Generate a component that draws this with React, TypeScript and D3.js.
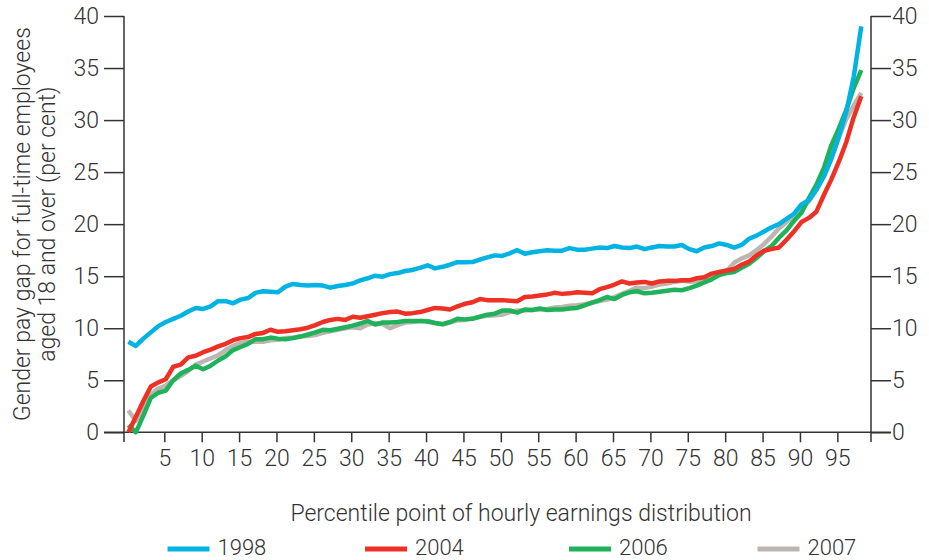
import React, { useEffect, useRef } from 'react';
import * as d3 from 'd3';

// percentile points 1..99
const percentiles = d3.range(1, 100);

const gap1998 = [
  8.7, 8.3, 9.0, 9.6, 10.2, 10.6, 10.9, 11.2, 11.6, 11.95,
  11.85, 12.1, 12.6, 12.6, 12.4, 12.75, 12.9, 13.4, 13.55, 13.5,
  13.45, 14.0, 14.25, 14.15, 14.1, 14.15, 14.1, 13.9, 14.05, 14.15,
  14.3, 14.6, 14.8, 15.05, 14.95, 15.2, 15.3, 15.5, 15.6, 15.8,
  16.05, 15.75, 15.9, 16.1, 16.35, 16.35, 16.36, 16.6, 16.8, 17.0,
  16.95, 17.2, 17.5, 17.15, 17.3, 17.4, 17.5, 17.45, 17.45, 17.7,
  17.55, 17.55, 17.65, 17.75, 17.7, 17.9, 17.75, 17.7, 17.85, 17.6,
  17.75, 17.9, 17.85, 17.85, 18.0, 17.6, 17.4, 17.75, 17.9, 18.15,
  18.0, 17.75, 18.0, 18.6, 18.9, 19.3, 19.7, 20.0, 20.5, 21.0,
  21.9, 22.3, 23.3, 24.6, 26.3, 28.4, 30.8, 34.2, 39.0,
];

const gap2004 = [
  0.0, 1.5, 3.0, 4.4, 4.8, 5.1, 6.3, 6.5, 7.2, 7.35,
  7.7, 7.95, 8.25, 8.5, 8.85, 9.05, 9.15, 9.45, 9.55, 9.85,
  9.65, 9.7, 9.8, 9.9, 10.05, 10.3, 10.6, 10.8, 10.9, 10.8,
  11.1, 11.0, 11.15, 11.3, 11.45, 11.55, 11.6, 11.4, 11.45, 11.55,
  11.75, 11.95, 11.9, 11.8, 12.1, 12.35, 12.5, 12.8, 12.7, 12.7,
  12.7, 12.65, 12.6, 13.0, 13.05, 13.15, 13.25, 13.4, 13.3, 13.35,
  13.45, 13.4, 13.35, 13.75, 13.95, 14.2, 14.5, 14.3, 14.4, 14.45,
  14.3, 14.5, 14.55, 14.55, 14.6, 14.6, 14.8, 14.9, 15.25, 15.4,
  15.55, 15.7, 16.1, 16.4, 17.0, 17.45, 17.6, 17.75, 18.5, 19.3,
  20.2, 20.6, 21.2, 22.8, 24.3, 26.0, 27.9, 30.3, 32.3,
];

const gap2006 = [
  0.7, 0.0, 1.6, 3.3, 3.8, 4.0, 5.0, 5.65, 6.0, 6.4,
  6.05, 6.4, 6.9, 7.3, 7.9, 8.2, 8.5, 8.95, 8.95, 9.1,
  9.0, 8.95, 9.05, 9.2, 9.4, 9.6, 9.85, 9.8, 9.95, 10.1,
  10.25, 10.45, 10.7, 10.35, 10.55, 10.55, 10.6, 10.7, 10.7, 10.7,
  10.65, 10.5, 10.4, 10.6, 10.9, 10.85, 10.9, 11.1, 11.3, 11.4,
  11.7, 11.7, 11.5, 11.8, 11.75, 11.9, 11.75, 11.8, 11.8, 11.9,
  11.95, 12.2, 12.45, 12.7, 13.0, 12.8, 13.2, 13.45, 13.55, 13.35,
  13.4, 13.5, 13.6, 13.7, 13.65, 13.85, 14.1, 14.4, 14.7, 15.1,
  15.3, 15.4, 15.8, 16.2, 16.75, 17.4, 17.9, 18.7, 19.4, 20.3,
  21.1, 22.5, 23.8, 25.4, 27.6, 29.2, 31.0, 33.1, 34.8,
];

const gap2007 = [
  2.1, 1.1, 2.3, 3.6, 4.2, 4.5, 5.0, 5.4, 5.9, 6.5,
  6.8, 7.1, 7.4, 7.9, 8.3, 8.6, 8.7, 8.7, 8.7, 8.85,
  8.9, 9.05, 9.1, 9.2, 9.25, 9.35, 9.55, 9.7, 9.85, 10.0,
  10.1, 10.0, 10.35, 10.5, 10.4, 10.0, 10.3, 10.55, 10.6, 10.7,
  10.7, 10.5, 10.35, 10.55, 10.75, 10.8, 10.95, 11.1, 11.2, 11.25,
  11.3, 11.55, 11.7, 11.7, 11.75, 11.8, 11.85, 12.0, 12.05, 12.15,
  12.2, 12.3, 12.45, 12.6, 12.75, 13.0, 13.3, 13.6, 13.9, 13.85,
  14.0, 14.2, 14.3, 14.45, 14.55, 14.5, 14.5, 14.7, 15.0, 15.2,
  15.5, 16.3, 16.7, 17.0, 17.5, 18.1, 18.8, 19.6, 20.2, 20.8,
  21.5, 22.2, 23.3, 24.6, 26.3, 28.3, 30.1, 31.4, 32.6,
];

const years = ['1998', '2004', '2006', '2007'];
const colors = ['#00b3e3', '#ee3124', '#1fb25a', '#bdb5af'];
const seriesValues = [gap1998, gap2004, gap2006, gap2007];

const xTicks = d3.range(5, 100, 5);
const yTicks = d3.range(0, 45, 5);

const xTitle = 'Percentile point of hourly earnings distribution';
const yTitle = ['Gender pay gap for full-time employees', 'aged 18 and over (per cent)'];

const FONT = 'Roboto, "Liberation Sans", Arial, sans-serif';
const INK = '#333';
const FS = 23;

export default function App() {
  const ref = useRef<SVGSVGElement>(null);

  useEffect(() => {
    const width = 929;
    const height = 560;
    const left = 124;
    const right = 871;
    const top = 16;
    const bottom = 442;

    const svg = d3.select(ref.current).attr('width', width).attr('height', height);
    svg.selectAll('*').remove();

    const x = d3.scaleLinear().domain([0, 99.5]).range([126.9, 871]);
    const y = d3.scaleLinear().domain([0, 40]).range([432.3, 16]);
    // data points sit a little left of their nominal percentile tick
    const shift = 0.8;

    // axis lines
    const axes = svg.append('g').attr('stroke', INK).attr('stroke-width', 1.5);
    axes.append('line').attr('x1', left).attr('x2', left).attr('y1', top).attr('y2', bottom);
    axes.append('line').attr('x1', right).attr('x2', right).attr('y1', top).attr('y2', bottom);
    axes.append('line').attr('x1', left - 20).attr('x2', right + 20).attr('y1', y(0)).attr('y2', y(0));

    const styleAxis = (g: any) => {
      g.select('.domain').remove();
      g.selectAll('line').attr('stroke', INK).attr('stroke-width', 1.5);
      g.selectAll('text')
        .attr('fill', INK)
        .attr('font-family', FONT)
        .attr('font-weight', 300)
        .attr('font-size', FS);
    };

    svg.append('g')
      .attr('transform', `translate(${left},0)`)
      .call(d3.axisLeft(y).tickValues(yTicks).tickSize(20).tickPadding(5).tickSizeOuter(0))
      .call(styleAxis);

    svg.append('g')
      .attr('transform', `translate(${right},0)`)
      .call(d3.axisRight(y).tickValues(yTicks).tickSize(20).tickPadding(1).tickSizeOuter(0))
      .call(styleAxis);

    svg.append('g')
      .attr('transform', `translate(0,${y(0)})`)
      .call(d3.axisBottom(x).tickValues(xTicks).tickSize(10).tickPadding(7).tickSizeOuter(0))
      .call(styleAxis);

    // lines: gray first, blue on top
    const line = d3.line<number>()
      .x((_, i) => x(percentiles[i] - shift))
      .y(d => y(d));

    const order = [3, 2, 1, 0];
    svg.append('g')
      .selectAll('path')
      .data(order)
      .enter()
      .append('path')
      .attr('d', i => line(seriesValues[i]))
      .attr('fill', 'none')
      .attr('stroke', i => colors[i])
      .attr('stroke-width', 4.5)
      .attr('stroke-linejoin', 'round');

    // axis titles
    svg.append('text')
      .attr('x', 521)
      .attr('y', 521)
      .attr('text-anchor', 'middle')
      .attr('font-family', FONT)
      .attr('font-weight', 300)
      .attr('font-size', FS)
      .attr('fill', INK)
      .text(xTitle);

    const yt = svg.append('text')
      .attr('transform', `translate(0,${(top + y(0)) / 2}) rotate(-90)`)
      .attr('text-anchor', 'middle')
      .attr('font-family', FONT)
      .attr('font-weight', 300)
      .attr('font-size', FS)
      .attr('fill', INK);
    yTitle.forEach((t, i) => {
      yt.append('tspan').attr('x', 0).attr('y', 30 + i * 25).text(t);
    });

    // legend
    const legendX = [167.5, 365, 569, 757.5];
    const lg = svg.append('g')
      .selectAll('g')
      .data(years)
      .enter()
      .append('g')
      .attr('transform', (_, i) => `translate(${legendX[i]},549)`);
    lg.append('line')
      .attr('x1', 0).attr('x2', 42)
      .attr('stroke', (_, i) => colors[i])
      .attr('stroke-width', 5);
    lg.append('text')
      .attr('x', 50)
      .attr('y', 6)
      .attr('font-family', FONT)
      .attr('font-weight', 300)
      .attr('font-size', 22)
      .attr('fill', INK)
      .text(d => d);
  });

  return (
    <div>
      <svg ref={ref} style={{ position: 'absolute', left: 0, top: 0 }}></svg>
    </div>
  );
}
